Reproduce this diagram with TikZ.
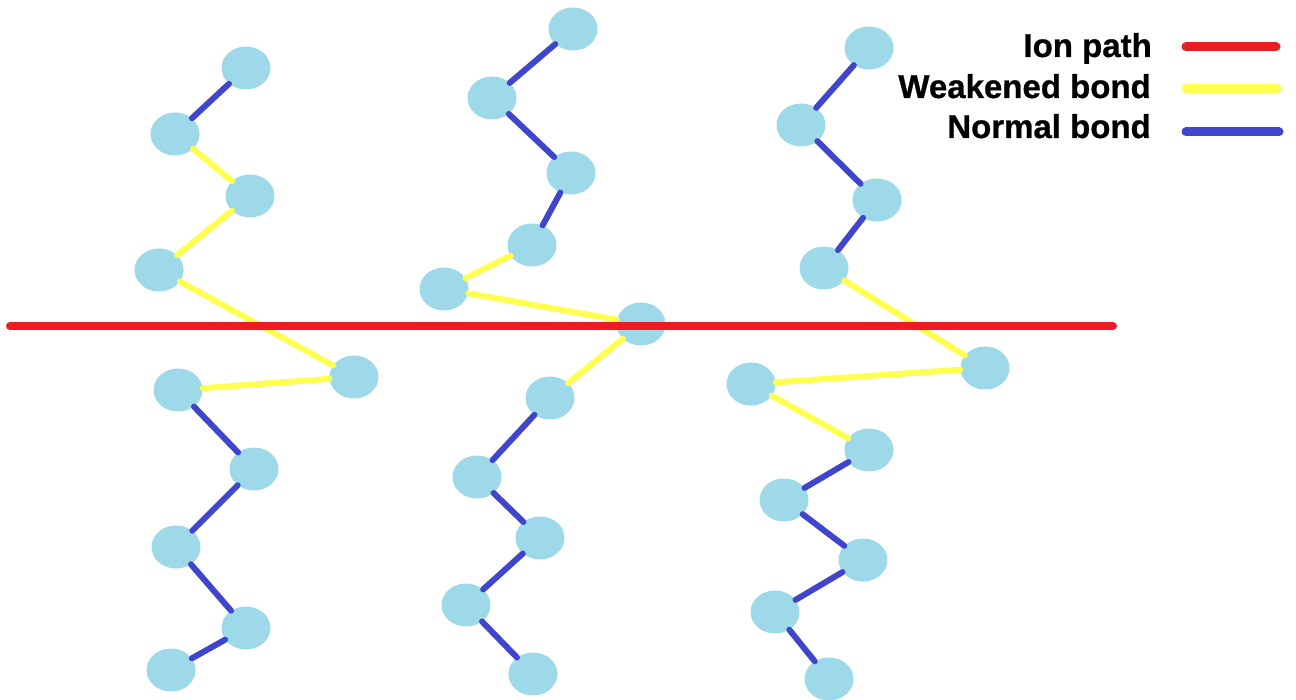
\documentclass[tikz,border=0pt]{standalone}
\usepackage{fontspec}
\setmainfont{Liberation Sans}
\newfontfamily\legfont{Liberation Sans}[BoldFeatures={FakeBold=0.8}]
\usetikzlibrary{shapes.geometric}
\definecolor{atomc}{HTML}{9DD9E8}
\definecolor{normc}{HTML}{3F46CC}
\definecolor{weakc}{HTML}{FFFF50}
\definecolor{ionc}{HTML}{ED1C24}
\begin{document}
\begin{tikzpicture}[x=1pt,y=-1pt,
  atom/.style={ellipse,fill=atomc,minimum width=49pt,minimum height=43pt,inner sep=0pt},
  normal/.style={draw=normc,line width=6pt,line cap=round},
  weak/.style={draw=weakc,line width=6pt,line cap=round},
  ion/.style={draw=ionc,line width=8pt,line cap=round},
  legtext/.style={anchor=base east,font=\fontsize{33}{36}\legfont\bfseries,inner sep=0pt},
  legline/.style={line width=9pt,line cap=round}]
\useasboundingbox (0,0) rectangle (1296,700);
% chain A
\node[atom] (a1) at (246,68) {};
\node[atom] (a2) at (175,134) {};
\node[atom] (a3) at (250,196) {};
\node[atom] (a4) at (159,270) {};
\node[atom] (a5) at (354,377) {};
\node[atom] (a6) at (178,390) {};
\node[atom] (a7) at (254,469) {};
\node[atom] (a8) at (176,547) {};
\node[atom] (a9) at (246,628) {};
\node[atom] (a10) at (171,670) {};
% chain B
\node[atom] (b1) at (573,29) {};
\node[atom] (b2) at (492,98) {};
\node[atom] (b3) at (571,173) {};
\node[atom] (b4) at (532,245) {};
\node[atom] (b5) at (444,289) {};
\node[atom] (b6) at (641,324) {};
\node[atom] (b7) at (550,398) {};
\node[atom] (b8) at (477,477) {};
\node[atom] (b9) at (540,538) {};
\node[atom] (b10) at (466,605) {};
\node[atom] (b11) at (533,674) {};
% chain C
\node[atom] (c1) at (869,48) {};
\node[atom] (c2) at (801,125) {};
\node[atom] (c3) at (877,200) {};
\node[atom] (c4) at (824,268) {};
\node[atom] (c5) at (985,368) {};
\node[atom] (c6) at (751,384) {};
\node[atom] (c7) at (869,450) {};
\node[atom] (c8) at (784,500) {};
\node[atom] (c9) at (863,560) {};
\node[atom] (c10) at (775,612) {};
\node[atom] (c11) at (829,679) {};
% bonds
\draw[normal] (a1) -- (a2);
\draw[weak] (a2) -- (a3);
\draw[weak] (a3) -- (a4);
\draw[weak] (a4) -- (a5);
\draw[weak] (a5) -- (a6);
\draw[normal] (a6) -- (a7);
\draw[normal] (a7) -- (a8);
\draw[normal] (a8) -- (a9);
\draw[normal] (a9) -- (a10);
\draw[normal] (b1) -- (b2);
\draw[normal] (b2) -- (b3);
\draw[normal] (b3) -- (b4);
\draw[weak] (b4) -- (b5);
\draw[weak] (b5) -- (b6);
\draw[weak] (b6) -- (b7);
\draw[normal] (b7) -- (b8);
\draw[normal] (b8) -- (b9);
\draw[normal] (b9) -- (b10);
\draw[normal] (b10) -- (b11);
\draw[normal] (c1) -- (c2);
\draw[normal] (c2) -- (c3);
\draw[normal] (c3) -- (c4);
\draw[weak] (c4) -- (c5);
\draw[weak] (c5) -- (c6);
\draw[weak] (c6) -- (c7);
\draw[normal] (c7) -- (c8);
\draw[normal] (c8) -- (c9);
\draw[normal] (c9) -- (c10);
\draw[normal] (c10) -- (c11);
% ion path
\coordinate (ionL) at (10,326);
\coordinate (ionR) at (1113,326);
\draw[ion] (ionL) -- (ionR);
% legend
\node[legtext] (t1) at (1152,57) {Ion path};
\node[legtext] (t2) at (1151,98) {Weakened bond};
\node[legtext] (t3) at (1151,138) {Normal bond};
\coordinate (l1a) at (1186,47); \coordinate (l1b) at (1276,47);
\coordinate (l2a) at (1186,89); \coordinate (l2b) at (1277,89);
\coordinate (l3a) at (1186,132); \coordinate (l3b) at (1279,132);
\draw[legline,ionc] (l1a) -- (l1b);
\draw[legline,weakc] (l2a) -- (l2b);
\draw[legline,normc] (l3a) -- (l3b);
\end{tikzpicture}
\end{document}
